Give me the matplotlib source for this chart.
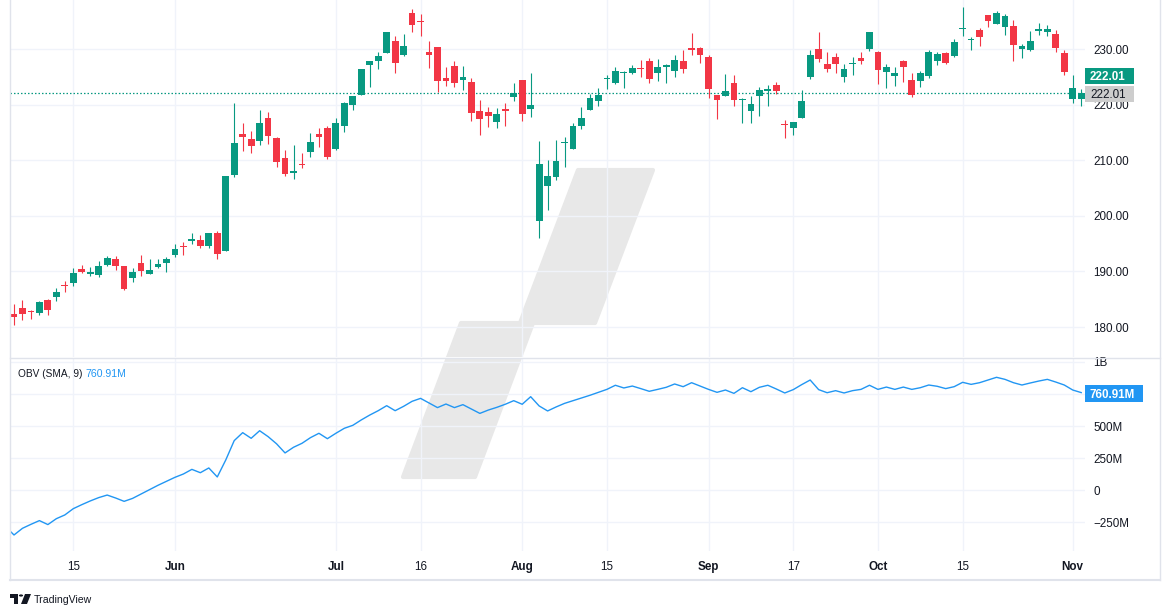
import matplotlib
matplotlib.use("Agg")
import matplotlib.pyplot as plt
from matplotlib.patches import Polygon, Rectangle, Circle
from matplotlib.lines import Line2D
import pandas as pd

plt.rcParams['font.family'] = ['Liberation Sans', 'DejaVu Sans']

W, H, DPI = 1171, 615, 100

# ---------------- data ----------------
open_ = [182.35, 183.45, 182.85, 182.56, 184.90, 185.44, 187.51, 187.91, 190.47, 189.51,
         189.33, 191.09, 192.27, 190.98, 188.82, 191.51, 189.61, 190.76, 191.44,
         192.90, 194.64, 195.40, 195.69, 194.65, 196.90, 193.65, 207.37, 214.74, 213.85,
         213.37, 217.59, 213.93, 210.39, 207.72, 209.15, 211.50, 214.69, 215.77,
         212.09, 216.15, 220.00, 221.65, 227.09, 227.93, 229.30, 231.39, 228.92, 236.48,
         235.00, 229.45, 230.28, 224.82, 227.01, 224.37, 224.00, 218.93, 218.70, 216.96,
         219.19, 221.44,
         224.37, 219.15, 199.09, 205.30, 206.90, 213.11, 212.10, 216.07, 219.01, 220.57,
         224.60, 223.92, 225.72, 225.77, 226.52, 227.79, 225.66, 226.76, 226.00, 227.92,
         230.10, 230.19,
         228.55, 221.66, 221.63, 223.95, 220.82, 218.92, 221.46, 222.50, 223.58, 216.54,
         215.75, 217.55, 224.99, 229.97, 227.34, 228.65, 224.93, 227.30, 228.46, 230.04,
         229.52, 225.89, 225.14, 227.90, 224.50, 224.30, 225.23, 227.78, 229.30, 228.70,
         233.61, 231.60, 233.43, 236.18, 234.45, 233.89, 234.08, 229.98, 229.74, 233.32,
         233.10, 232.61, 229.34,
         220.97, 220.99]
high = [184.20, 184.90, 183.07, 184.66, 185.09, 187.10, 188.30, 190.65, 191.10, 190.81,
        191.92, 192.73, 192.82, 191.00, 190.58, 193.00, 192.25, 192.18, 192.57,
        194.99, 195.32, 196.90, 196.50, 196.94, 197.30, 207.16, 220.20, 216.75, 215.17,
        218.95, 218.63, 214.24, 211.89, 212.70, 211.38, 214.86, 215.74, 216.07,
        217.51, 220.38, 221.55, 226.45, 227.85, 229.40, 233.08, 232.39, 232.64, 237.23,
        236.27, 231.46, 230.44, 226.80, 227.78, 226.94, 224.80, 220.85, 219.49, 219.30,
        220.33, 223.82,
        224.48, 225.60, 213.50, 209.99, 213.64, 214.20, 216.78, 219.51, 221.89, 223.03,
        225.35, 226.83, 225.99, 227.17, 227.98, 228.34, 228.22, 227.28, 228.85, 229.86,
        232.92, 230.40,
        229.00, 221.78, 225.48, 225.24, 221.27, 221.48, 223.09, 223.55, 224.04, 217.22,
        216.90, 222.71, 229.82, 233.09, 229.45, 229.35, 227.29, 228.50, 229.52, 233.00,
        229.65, 227.37, 226.81, 228.00, 225.69, 225.98, 229.75, 229.50, 229.41, 231.73,
        237.49, 232.12, 233.85, 236.18, 236.85, 236.22, 235.14, 230.82, 233.22, 234.73,
        234.33, 233.47, 229.83,
        225.35, 222.79]
low = [180.42, 181.32, 181.45, 182.11, 182.13, 184.62, 186.29, 187.37, 189.66, 189.18,
       189.01, 190.92, 190.27, 186.63, 188.04, 189.10, 189.51, 190.63, 189.91,
       192.52, 193.03, 194.87, 194.17, 194.14, 192.15, 193.63, 206.90, 211.60, 211.30,
       212.72, 213.00, 208.85, 207.11, 206.59, 208.61, 210.64, 212.35, 210.30,
       211.92, 215.10, 219.03, 221.65, 223.25, 226.37, 229.25, 225.77, 228.68, 233.09,
       232.33, 226.64, 222.27, 223.28, 223.09, 222.68, 217.13, 214.62, 216.01, 215.75,
       216.12, 220.63,
       217.02, 217.71, 196.00, 201.07, 206.39, 208.83, 211.97, 215.60, 219.01, 219.70,
       222.76, 223.65, 223.04, 225.45, 225.05, 223.90, 224.33, 223.89, 224.89, 225.68,
       228.88, 227.48,
       221.17, 217.48, 221.52, 219.77, 216.71, 216.73, 217.89, 219.82, 221.91, 213.92,
       214.50, 217.54, 224.63, 227.62, 225.81, 225.73, 224.02, 225.41, 227.30, 229.65,
       223.74, 223.02, 223.32, 224.13, 221.33, 223.25, 224.83, 227.17, 227.34, 228.60,
       232.37, 229.84, 230.52, 234.01, 234.45, 232.60, 227.76, 228.41, 229.57, 232.55,
       232.32, 229.55, 225.37,
       220.27, 219.71]
close = [181.71, 182.40, 182.74, 184.57, 183.05, 186.28, 187.43, 189.72, 189.84, 189.87,
         191.04, 192.35, 190.90, 186.88, 189.98, 189.99, 190.29, 191.29, 192.25,
         194.03, 194.35, 195.87, 194.48, 196.89, 193.12, 207.15, 213.07, 214.24, 212.49,
         216.67, 214.29, 209.68, 207.49, 208.14, 209.07, 213.25, 214.10, 210.62,
         216.75, 220.27, 221.55, 226.34, 227.82, 228.68, 232.98, 227.57, 230.54, 234.40,
         234.82, 228.88, 224.18, 224.31, 223.96, 225.01, 218.54, 217.49, 217.96, 218.24,
         218.80, 222.08,
         218.36, 219.86, 209.27, 207.23, 209.82, 213.31, 216.24, 217.53, 221.27, 221.72,
         224.72, 226.05, 225.89, 226.51, 226.40, 224.53, 226.84, 227.18, 228.03, 226.49,
         229.79, 229.00,
         222.77, 220.85, 222.38, 220.82, 220.91, 220.11, 222.66, 222.77, 222.50, 216.32,
         216.79, 220.69, 228.87, 228.20, 226.47, 227.37, 226.37, 227.52, 227.79, 233.00,
         226.21, 226.78, 225.67, 226.80, 221.69, 225.77, 229.54, 229.04, 227.55, 231.30,
         233.85, 231.78, 232.15, 235.00, 236.48, 235.86, 230.76, 230.57, 231.41, 233.40,
         233.67, 230.10, 225.91,
         222.91, 222.01]

# OBV in millions, first value belongs to the session before the first candle
obv_millions = [-282, -348, -296, -265, -236, -267, -221, -192, -143, -112,
                -83, -57, -37, -60, -86, -63, -29, 5, 39, 70,
                101, 127, 163, 137, 174, 104, 236, 387, 449, 405,
                464, 418, 362, 291, 335, 366, 410, 444, 402, 444,
                483, 506, 548, 586, 620, 659, 620, 654, 693, 716,
                680, 644, 672, 644, 667, 633, 599, 625, 646, 670,
                698, 670, 729, 657, 618, 649, 677, 698, 719, 740,
                763, 786, 818, 797, 812, 792, 771, 786, 802, 828,
                807, 838, 812, 786, 763, 781, 755, 799, 768, 802,
                818, 789, 758, 784, 823, 859, 784, 760, 776, 758,
                776, 786, 818, 786, 804, 786, 804, 786, 799, 820,
                810, 792, 807, 841, 825, 838, 859, 880, 864, 838,
                820, 836, 851, 864, 843, 820, 781, 760.91]

holidays = ['2024-05-27', '2024-06-19', '2024-07-04', '2024-09-02']
tick_dates = ['2024-05-15', '2024-06-03', '2024-07-01', '2024-07-16', '2024-08-01',
              '2024-08-15', '2024-09-03', '2024-09-17', '2024-10-01', '2024-10-15',
              '2024-11-01']
tick_labels = ['15', 'Jun', 'Jul', '16', 'Aug', '15', 'Sep', '17', 'Oct', '15', 'Nov']
tick_is_month = [False, True, True, False, True, False, True, False, True, False, True]

price_ticks = [180, 190, 200, 210, 220, 230]
price_tick_labels = ['180.00', '190.00', '200.00', '210.00', '220.00', '230.00']
obv_ticks = [-250, 0, 250, 500, 750, 1000]
obv_tick_labels = ['\u2212250M', '0', '250M', '500M', '', '1B']

last_price_text = '222.01'
obv_last_text = '760.91M'

# ---------------- styling ----------------
UP, DOWN = '#089981', '#F23645'
GRID = '#f0f3fa'
BORDER = '#e0e3eb'
TXT = '#131722'
BLUE = '#2196F3'
FS = 8.4

dates = pd.bdate_range('2024-05-06', '2024-11-04')
dates = dates[~dates.isin(pd.to_datetime(holidays))]
n = len(close)
assert len(dates) == n and len(obv_millions) == n + 1
tick_idx = [dates.get_loc(pd.Timestamp(d)) for d in tick_dates]

fig = plt.figure(figsize=(W / DPI, H / DPI), dpi=DPI)
fig.patch.set_facecolor('white')


def fx(px):
    return px / W


def fy(py):
    return 1 - py / H


L, R = 10, 1085
ax1 = fig.add_axes([fx(L), fy(357), fx(R - L), 357 / H])
ax2 = fig.add_axes([fx(L), fy(551), fx(R - L), (551 - 358) / H])

px_per_bar = 8.47
x_lo = -(14 - L) / px_per_bar
x_hi = (R - 14) / px_per_bar

for ax in (ax1, ax2):
    ax.set_xlim(x_lo, x_hi)
    for s in ax.spines.values():
        s.set_visible(False)
    ax.set_axisbelow(True)
    ax.set_xticks(tick_idx)
    ax.grid(True, color=GRID, linewidth=1.0)
    ax.yaxis.tick_right()
    ax.tick_params(axis='both', length=0, colors=TXT, labelsize=FS)

# price pane
ax1.set_ylim(180 - 30 / 5.56, 230 + 49 / 5.56)
ax1.set_yticks(price_ticks)
ax1.set_yticklabels(price_tick_labels)
ax1.tick_params(axis='y', pad=5.8)
ax1.tick_params(axis='x', labelbottom=False)

for i in range(n):
    o, h, l, c = open_[i], high[i], low[i], close[i]
    col = UP if c >= o else DOWN
    ax1.vlines(i, l, h, color=col, linewidth=0.8, zorder=2)
    body = max(abs(c - o), 0.2)
    ax1.bar(i, body, bottom=min(o, c), width=0.8, color=col, linewidth=0, zorder=3)

ax1.axhline(close[-1], color=UP, linewidth=0.9, linestyle=(0, (1.2, 1.6)), zorder=1.5)

# OBV pane
ax2.set_ylim((490.3 - 551) * 7.788, (490.3 - 358) * 7.788)
ax2.set_yticks(obv_ticks)
ax2.set_yticklabels(obv_tick_labels)
ax2.tick_params(axis='y', pad=5.8)
ax2.set_xticklabels(tick_labels)
ax2.tick_params(axis='x', pad=7.2)
for lab, bold in zip(ax2.get_xticklabels(), tick_is_month):
    lab.set_fontweight('bold' if bold else 'normal')
ax2.plot(range(-1, n), obv_millions, color=BLUE, linewidth=1.0, zorder=3)

# watermark logo (pixel outline -> figure fraction)
wm = [(578, 170), (653, 170), (595, 323), (533, 323), (475, 477),
      (403, 477), (461, 323), (520, 323)]
for ax in (ax1, ax2):
    p = Polygon([(fx(x), fy(y)) for x, y in wm], closed=True, transform=fig.transFigure,
                facecolor='#e8e8e8', edgecolor='#e8e8e8', linewidth=3,
                joinstyle='round', zorder=0.2)
    ax.add_patch(p)

# frame lines
fig.add_artist(Line2D([fx(L), fx(1160)], [fy(357.5), fy(357.5)], color=BORDER, linewidth=1))
fig.add_artist(Line2D([fx(9.5), fx(9.5)], [fy(0), fy(580)], color=BORDER, linewidth=1))
fig.add_artist(Line2D([fx(9.5), fx(1160)], [fy(579.5), fy(579.5)], color=BORDER, linewidth=1.5))
fig.add_artist(Line2D([fx(1160), fx(1160)], [fy(0), fy(580)], color=BORDER, linewidth=1))


def label_box(x0, y0, x1, y1, fc, text, tc, weight='normal'):
    fig.add_artist(Rectangle((fx(x0), fy(y1)), fx(x1 - x0), (y1 - y0) / H,
                             transform=fig.transFigure, facecolor=fc, edgecolor='none', zorder=5))
    fig.text(fx(x0 + 5), fy((y0 + y1) / 2), text, color=tc, fontsize=FS, weight=weight,
             ha='left', va='center_baseline', zorder=6)


label_box(1085, 68, 1134, 84, UP, last_price_text, 'white', 'bold')
label_box(1085, 86, 1134, 102, '#cdcdcd', last_price_text, TXT)
label_box(1085, 385, 1143, 402, BLUE, obv_last_text, 'white', 'bold')

# OBV legend
fig.text(fx(18), fy(373), 'OBV (SMA, 9)', color=TXT, fontsize=7.3, va='center_baseline')
fig.text(fx(85), fy(373), obv_last_text, color=BLUE, fontsize=7.6, va='center_baseline')

# TradingView footer logo
fig.add_artist(Rectangle((fx(10), fy(598)), fx(8), 4 / H, transform=fig.transFigure,
                         facecolor=TXT, edgecolor='none'))
fig.add_artist(Rectangle((fx(14), fy(604)), fx(4), 10 / H, transform=fig.transFigure,
                         facecolor=TXT, edgecolor='none'))
fig.add_artist(Circle((fx(21), fy(595.5)), 2.1 / W, transform=fig.transFigure,
                      facecolor=TXT, edgecolor='none'))
fig.add_artist(Polygon([(fx(25), fy(594)), (fx(31), fy(594)), (fx(27), fy(604)), (fx(21), fy(604))],
                       closed=True, transform=fig.transFigure, facecolor=TXT, edgecolor='none'))
fig.text(fx(34), fy(599), 'TradingView', color=TXT, fontsize=7.6, va='center_baseline')

fig.savefig('out.png', dpi=DPI, facecolor='white')
